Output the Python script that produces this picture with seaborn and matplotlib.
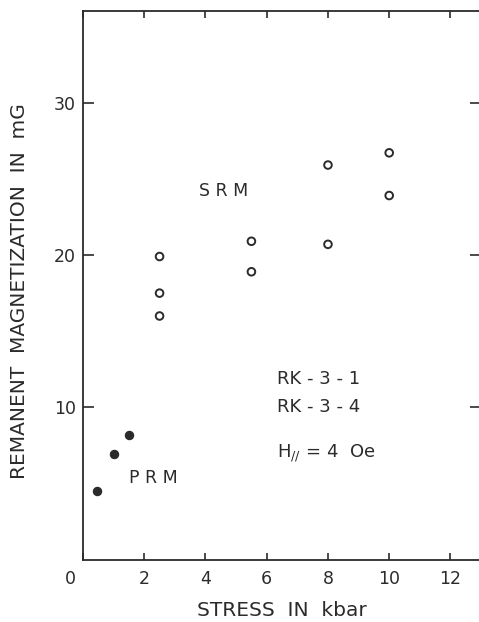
import numpy as np
import pandas as pd
import matplotlib
matplotlib.use('Agg')
import matplotlib.pyplot as plt
import matplotlib.transforms as mtransforms
import seaborn as sns

# SRM: 空心圓 / PRM: 實心點
srm_stress = [2.5, 2.5, 2.5, 5.5, 5.5, 8.0, 8.0, 10.0, 10.0]
srm_mag = [19.9, 17.5, 16.0, 20.9, 18.9, 25.9, 20.7, 26.7, 23.9]
prm_stress = [0.45, 1.0, 1.5]
prm_mag = [4.5, 6.95, 8.2]

x_ticks = [0, 2, 4, 6, 8, 10, 12]
y_ticks = [10, 20, 30]

sns.set_style('white')
plt.rcParams['font.family'] = ['DejaVu Sans']
ink = '#2b2b2b'

df_srm = pd.DataFrame({'stress': srm_stress, 'mag': srm_mag})
df_prm = pd.DataFrame({'stress': prm_stress, 'mag': prm_mag})

fig = plt.figure(figsize=(4.79, 6.22), dpi=100)
ax = fig.add_axes([0.1733, 0.0997, 0.831, 0.8826])

sns.scatterplot(data=df_srm, x='stress', y='mag', marker='o', s=30,
                facecolor='none', edgecolor=ink, linewidth=1.4, ax=ax)
sns.scatterplot(data=df_prm, x='stress', y='mag', marker='o', s=36,
                color=ink, edgecolor=ink, linewidth=0.8, ax=ax)

ax.set_xlim(0, 13)
ax.set_ylim(0, 36)
ax.set_xticks(x_ticks)
ax.set_yticks(y_ticks)
ax.set_xticklabels([str(t) for t in x_ticks])
ax.set_yticklabels([str(t) for t in y_ticks])

ax.tick_params(axis='x', direction='in', length=5, width=1.2, top=True,
               bottom=True, labelsize=12.5, pad=7, colors=ink)
ax.tick_params(axis='y', direction='in', length=8, width=1.2, left=True,
               right=True, labelsize=12.5, pad=5, colors=ink)

# 0 的刻度標籤往左移一點
lbl0 = ax.get_xticklabels()[0]
lbl0.set_transform(lbl0.get_transform() +
                   mtransforms.ScaledTranslation(-0.13, 0, fig.dpi_scale_trans))

for sp in ax.spines.values():
    sp.set_linewidth(1.3)
    sp.set_color(ink)

ax.set_xlabel('STRESS  IN  kbar', fontsize=14.5, color=ink)
ax.set_ylabel('REMANENT  MAGNETIZATION  IN  mG', fontsize=14.5, color=ink)
ax.xaxis.set_label_coords(0.5, -0.074)
ax.yaxis.set_label_coords(-0.135, 0.49)

ax.text(4.6, 24.2, 'S R M', fontsize=12.5, color=ink, ha='center', va='center')
ax.text(2.3, 5.4, 'P R M', fontsize=12.5, color=ink, ha='center', va='center')
ax.text(6.35, 11.9, 'RK - 3 - 1', fontsize=13, color=ink, ha='left', va='center')
ax.text(6.35, 10.0, 'RK - 3 - 4', fontsize=13, color=ink, ha='left', va='center')
ax.text(6.35, 7.0, r'H$_{//}$ = 4  Oe', fontsize=13, color=ink, ha='left', va='center')

fig.savefig('out.png', dpi=100)
